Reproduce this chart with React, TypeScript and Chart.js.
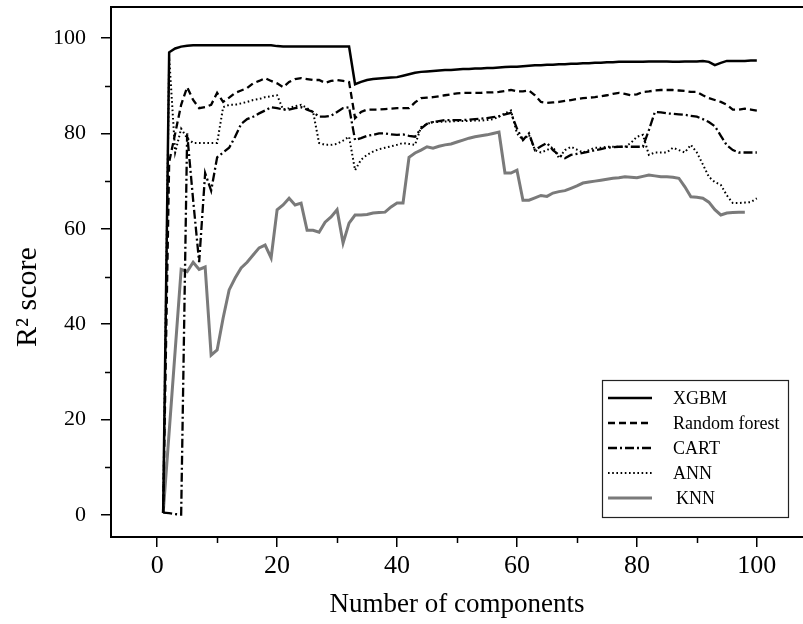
import React, { useEffect, useRef } from "react";
import { Chart, registerables } from "chart.js";

Chart.register(...registerables);

const components = [
  1, 2, 3, 4, 5, 6, 7, 8, 9, 10, 11, 12, 13, 14, 15, 16, 17, 18, 19, 20,
  21, 22, 23, 24, 25, 26, 27, 28, 29, 30, 31, 32, 33, 34, 35, 36, 37, 38, 39, 40,
  41, 42, 43, 44, 45, 46, 47, 48, 49, 50, 51, 52, 53, 54, 55, 56, 57, 58, 59, 60,
  61, 62, 63, 64, 65, 66, 67, 68, 69, 70, 71, 72, 73, 74, 75, 76, 77, 78, 79, 80,
  81, 82, 83, 84, 85, 86, 87, 88, 89, 90, 91, 92, 93, 94, 95, 96, 97, 98, 99, 100,
];

const xgbm = [
  0.5, 97, 97.8, 98.2, 98.4, 98.5, 98.5, 98.5, 98.5, 98.5,
  98.5, 98.5, 98.5, 98.5, 98.5, 98.5, 98.5, 98.5, 98.5, 98.3,
  98.2, 98.2, 98.2, 98.2, 98.2, 98.2, 98.2, 98.2, 98.2, 98.2,
  98.2, 98.2, 90.3, 90.8, 91.2, 91.4, 91.5, 91.6, 91.7, 91.8,
  92.1, 92.4, 92.7, 92.9, 93.0, 93.1, 93.2, 93.3, 93.3, 93.4,
  93.5, 93.5, 93.6, 93.6, 93.7, 93.7, 93.8, 93.9, 94.0, 94.0,
  94.1, 94.2, 94.3, 94.3, 94.4, 94.4, 94.5, 94.5, 94.6, 94.6,
  94.7, 94.7, 94.8, 94.8, 94.9, 94.9, 95.0, 95.0, 95.0, 95.0,
  95.0, 95.1, 95.1, 95.1, 95.1, 95.0, 95.0, 95.1, 95.1, 95.1,
  95.2, 95.0, 94.3, 94.8, 95.2, 95.2, 95.2, 95.2, 95.3, 95.3,
];

const randomForest = [
  0.5, 74, 80, 86, 89.7, 87, 85.3, 85.5, 86, 88.5,
  86.6, 87.5, 88.5, 89, 89.5, 90.5, 91, 91.6, 91, 90.5,
  89.7, 90.8, 91.4, 91.6, 91.4, 91.2, 91.2, 90.6, 91, 91.2,
  91, 90.8, 83.2, 84.5, 85, 85, 85, 85.1, 85.2, 85.3,
  85.3, 85.3, 86.5, 87.4, 87.5, 87.6, 87.8, 88, 88.2, 88.4,
  88.5, 88.5, 88.5, 88.5, 88.6, 88.6, 88.7, 88.9, 89.1, 88.8,
  88.8, 89, 88, 86.6, 86.4, 86.5, 86.6, 86.8, 87, 87.2,
  87.4, 87.5, 87.6, 87.8, 88, 88.3, 88.5, 88.3, 88, 88.2,
  88.7, 88.8, 89, 89.1, 89.1, 89.1, 89, 88.9, 88.7, 88.7,
  88, 87.4, 87, 86.6, 86, 85, 85, 85.2, 85, 84.8,
];

const cart = [
  0.5, 0.4, 0.2, 0.1, 80, 66, 53, 71.7, 68, 75,
  76, 77, 79.3, 82, 83, 83.5, 84.2, 84.8, 85.5, 85.3,
  85, 85, 85.3, 85.5, 85, 84.5, 83.5, 83.5, 83.7, 84.5,
  85.3, 85.5, 78.6, 79, 79.5, 79.7, 80, 80, 79.8, 79.7,
  79.8, 79.5, 79.3, 81, 82, 82.4, 82.6, 82.8, 82.8, 82.8,
  82.8, 82.9, 83, 83.1, 83.2, 83.4, 83.6, 84, 84.3, 81,
  78.6, 80, 76.5, 77.3, 78, 76.5, 75.5, 74.8, 75.5, 75.7,
  75.9, 76.2, 76.5, 76.7, 77, 77.1, 77.2, 77.2, 77.2, 77.2,
  77.2, 80.7, 84.5, 84.4, 84.2, 84.1, 84, 83.9, 83.7, 83.5,
  83, 82.4, 81.5, 79.5, 77.5, 76.5, 76, 76, 76, 76,
];

const ann = [
  0.5, 96, 76, 81, 79, 78, 78, 78, 78, 78,
  85.5, 86, 86, 86.3, 86.6, 87, 87.2, 87.6, 87.8, 88,
  85, 85.3, 85.7, 86, 85.3, 84.5, 78, 77.6, 77.6, 77.8,
  78.5, 79.3, 72.3, 74.5, 75.5, 76.2, 76.7, 77, 77.3, 77.6,
  78, 77.8, 77.6, 81.3, 82, 82.4, 82.4, 82.5, 82.5, 82.6,
  82.6, 82.6, 82.7, 82.7, 82.8, 83, 83.5, 84.2, 84.8, 80,
  78.6, 79.7, 76.5, 76, 76.5, 77.2, 74.8, 76.5, 77.2, 76.6,
  76, 76.5, 77, 77, 77.2, 77.2, 77.2, 77.2, 78, 79.3,
  79.7, 75.5, 76, 76, 76, 77, 76.5, 76, 77.6, 76,
  73.5, 70.9, 69.8, 69.2, 67, 65.4, 65.4, 65.5, 65.6, 66.4,
];

const knn = [
  0.4, null, null, 51.5, 51, 53, 51.5, 52, 33.5, 34.6,
  41.3, 47.2, 49.7, 51.8, 53, 54.5, 56, 56.6, 53.9, 64,
  65, 66.4, 65, 65.4, 59.7, 59.7, 59.3, 61.4, 62.5, 64,
  57, 61.2, 62.9, 62.9, 63, 63.3, 63.4, 63.5, 64.6, 65.4,
  65.4, 75, 75.9, 76.5, 77.2, 76.9, 77.3, 77.6, 77.8, 78.2,
  78.6, 79, 79.3, 79.5, 79.7, 80, 80.3, 71.7, 71.7, 72.3,
  66, 66, 66.5, 67, 66.8, 67.5, 67.8, 68, 68.5, 69,
  69.6, 69.8, 70, 70.2, 70.4, 70.6, 70.7, 70.9, 70.8, 70.7,
  71, 71.3, 71.1, 70.9, 70.9, 70.8, 70.6, 68.8, 66.7, 66.6,
  66.4, 65.6, 64, 62.9, 63.3, 63.4, 63.5, 63.5, null, null,
];

const seriesNames = ["XGBM", "Random forest", "CART", "ANN", "KNN"];
const xTickValues = [0, 20, 40, 60, 80, 100];
const yTickValues = [0, 20, 40, 60, 80, 100];
const minorTickValues = [10, 30, 50, 70, 90];
const xTitle = "Number of components";
const yTitle = "R² score";

const FONT = "'Liberation Serif', 'Times New Roman', Times, serif";

function toPoints(values: (number | null)[]) {
  const pts: { x: number; y: number }[] = [];
  values.forEach((v, i) => {
    if (v !== null) pts.push({ x: components[i], y: v });
  });
  return pts;
}

const decorPlugin = {
  id: "decor",
  afterDraw(chart: any) {
    const { ctx, chartArea, scales } = chart;
    const xs = scales.x;
    const ys = scales.y;
    ctx.save();
    // top frame line
    ctx.strokeStyle = "#000";
    ctx.lineWidth = 2;
    ctx.beginPath();
    ctx.moveTo(chartArea.left - 1, chartArea.top);
    ctx.lineTo(chartArea.right, chartArea.top);
    ctx.stroke();
    // minor ticks
    ctx.lineWidth = 1.5;
    ctx.beginPath();
    minorTickValues.forEach((v) => {
      const px = Math.round(xs.getPixelForValue(v)) + 0.5;
      ctx.moveTo(px, chartArea.bottom);
      ctx.lineTo(px, chartArea.bottom + 6);
      const py = Math.round(ys.getPixelForValue(v)) + 0.5;
      ctx.moveTo(chartArea.left, py);
      ctx.lineTo(chartArea.left - 6, py);
    });
    ctx.stroke();

    // y title
    ctx.save();
    ctx.translate(28, 297);
    ctx.rotate(-Math.PI / 2);
    ctx.fillStyle = "#000";
    ctx.font = `30px ${FONT}`;
    ctx.textAlign = "center";
    ctx.textBaseline = "middle";
    ctx.fillText(yTitle, 0, 0);
    ctx.restore();

    // legend
    const bx = chartArea.left + 491;
    const by = chartArea.top + 373;
    const bw = 186;
    const bh = 137;
    ctx.fillStyle = "#fff";
    ctx.fillRect(bx, by, bw, bh);
    ctx.strokeStyle = "#222";
    ctx.lineWidth = 1.2;
    ctx.setLineDash([]);
    ctx.strokeRect(bx + 0.5, by + 0.5, bw, bh);
    chart.data.datasets.forEach((ds: any, i: number) => {
      const cy = by + 18 + i * 25;
      ctx.save();
      ctx.strokeStyle = ds.borderColor;
      ctx.lineWidth = ds.borderWidth;
      ctx.setLineDash(ds.borderDash || []);
      ctx.beginPath();
      ctx.moveTo(bx + 6, cy);
      ctx.lineTo(bx + 50, cy);
      ctx.stroke();
      ctx.restore();
      ctx.fillStyle = "#000";
      ctx.font = `18px ${FONT}`;
      ctx.textAlign = "left";
      ctx.textBaseline = "middle";
      ctx.fillText(ds.label, bx + 71 + (i === 4 ? 3 : 0), cy + 1);
    });
    ctx.restore();
  },
};

export default function App() {
  const canvasRef = useRef<HTMLCanvasElement | null>(null);

  useEffect(() => {
    document.body.style.margin = "0";
    const canvas = canvasRef.current;
    if (!canvas) return;
    const styles = [
      { color: "#000", width: 2.5, dash: [] as number[] },
      { color: "#000", width: 2.3, dash: [7, 4] },
      { color: "#000", width: 2.3, dash: [9, 3, 2, 3] },
      { color: "#000", width: 2, dash: [1.6, 2.6] },
      { color: "#7a7a7a", width: 3, dash: [] as number[] },
    ];
    const allSeries = [xgbm, randomForest, cart, ann, knn];
    const chart = new Chart(canvas, {
      type: "line",
      data: {
        datasets: allSeries.map((s, i) => ({
          label: seriesNames[i],
          data: toPoints(s),
          borderColor: styles[i].color,
          backgroundColor: styles[i].color,
          borderWidth: styles[i].width,
          borderDash: styles[i].dash,
          pointRadius: 0,
          tension: 0,
          fill: false,
        })),
      },
      options: {
        responsive: false,
        animation: false,
        devicePixelRatio: 1,
        layout: { padding: { top: 7, right: 0, left: 0, bottom: 0 } },
        plugins: {
          legend: { display: false },
          tooltip: { enabled: false },
        },
        scales: {
          x: {
            type: "linear",
            min: -7.7,
            max: 107.7,
            afterBuildTicks: (scale: any) => {
              scale.ticks = xTickValues.map((v) => ({ value: v }));
            },
            afterFit: (scale: any) => {
              scale.height = 87;
              scale.paddingLeft = 0;
              scale.paddingRight = 0;
            },
            ticks: {
              color: "#000",
              font: { family: FONT, size: 26 },
              padding: 4,
              maxRotation: 0,
              autoSkip: false,
            },
            grid: {
              display: true,
              drawOnChartArea: false,
              drawTicks: true,
              tickLength: 10,
              color: "#000",
              lineWidth: 1.5,
            },
            border: { display: true, color: "#000", width: 2 },
            title: {
              display: true,
              text: xTitle,
              color: "#000",
              font: { family: FONT, size: 27 },
              padding: { top: 0, bottom: 3 },
            },
          },
          y: {
            type: "linear",
            min: -4.6,
            max: 106.5,
            afterBuildTicks: (scale: any) => {
              scale.ticks = yTickValues.map((v) => ({ value: v }));
            },
            afterFit: (scale: any) => {
              scale.width = 111;
              scale.paddingTop = 0;
              scale.paddingBottom = 0;
            },
            ticks: {
              color: "#000",
              font: { family: FONT, size: 22 },
              padding: 15,
              autoSkip: false,
            },
            grid: {
              display: true,
              drawOnChartArea: false,
              drawTicks: true,
              tickLength: 10,
              color: "#000",
              lineWidth: 1.5,
            },
            border: { display: true, color: "#000", width: 2 },
          },
        },
      },
      plugins: [decorPlugin],
    });
    return () => chart.destroy();
  }, []);

  return (
    <div style={{ width: 803, height: 624, background: "#fff" }}>
      <canvas ref={canvasRef} width={803} height={624} style={{ display: "block" }} />
    </div>
  );
}
